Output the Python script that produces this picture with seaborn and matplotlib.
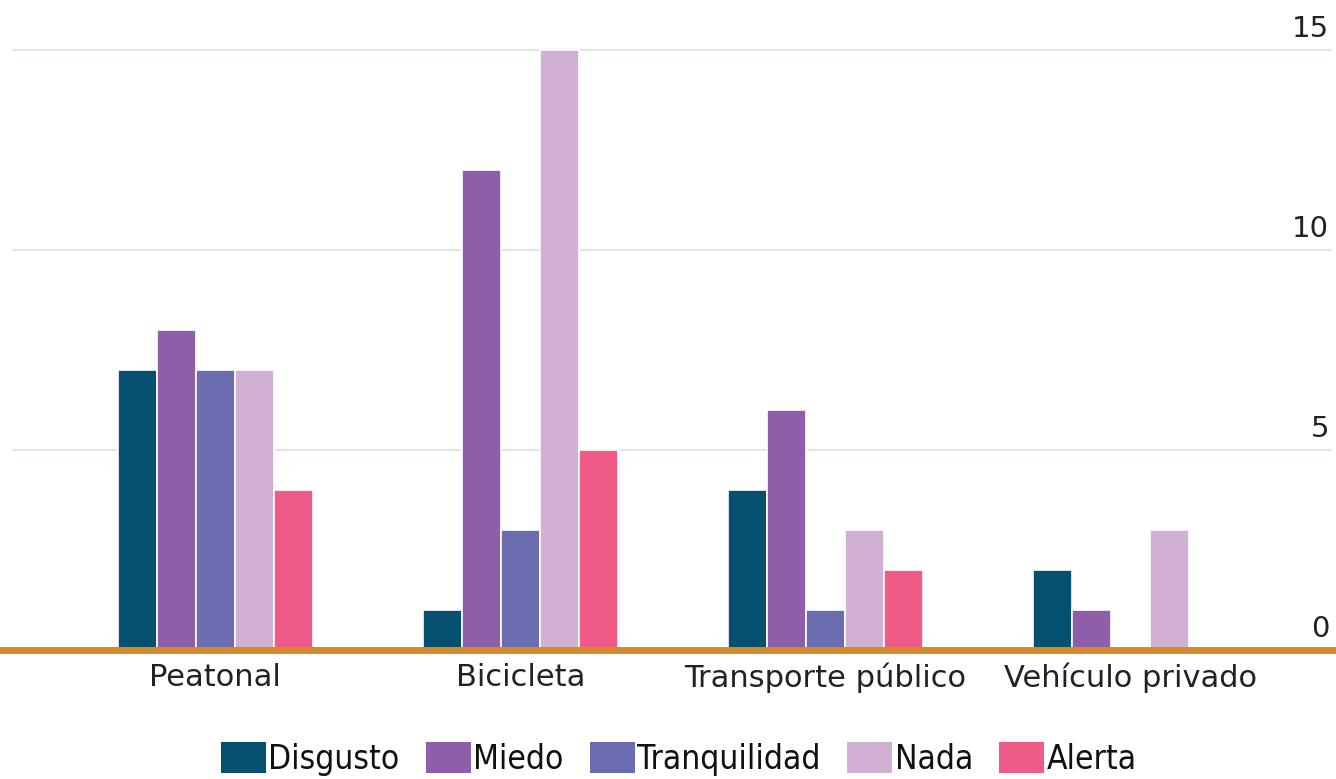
import matplotlib
matplotlib.use("Agg")
import matplotlib.pyplot as plt
import matplotlib.transforms as mtrans
import seaborn as sns
import pandas as pd
from matplotlib.font_manager import FontProperties
from matplotlib.patches import Patch

categories = ["Peatonal", "Bicicleta", "Transporte público", "Vehículo privado"]
series = ["Disgusto", "Miedo", "Tranquilidad", "Nada", "Alerta"]
disgusto = [7, 1, 4, 2]
miedo = [8, 12, 6, 1]
tranquilidad = [7, 3, 1, 0]
nada = [7, 15, 3, 3]
alerta = [4, 5, 2, 0]
y_ticks = [0, 5, 10, 15]

colors = ["#05506e", "#8e5ea8", "#6c6db0", "#d0b0d3", "#ef5a86"]

values = [disgusto, miedo, tranquilidad, nada, alerta]
rows = []
for s, vals in zip(series, values):
    for c, v in zip(categories, vals):
        rows.append({"cat": c, "serie": s, "val": v})
df = pd.DataFrame(rows)

sns.set_theme(style="white")
plt.rcParams["font.family"] = ["DejaVu Sans"]

fig = plt.figure(figsize=(13.36, 7.79), dpi=100)
ax = fig.add_axes([12 / 1336, 129 / 779, 1320 / 1336, (650 - 42) / 779])

sns.barplot(data=df, x="cat", y="val", hue="serie", order=categories,
            hue_order=series, palette=colors, width=0.64, ax=ax,
            edgecolor="white", linewidth=1.2, legend=False, saturation=1)

ax.set_xlim(-0.666, 3.66)
ax.set_ylim(0, 15.2)
ax.set_xlabel("")
ax.set_ylabel("")

ax.yaxis.tick_right()
ax.set_yticks(y_ticks)
ax.set_yticklabels([str(t) for t in y_ticks])
ax.tick_params(axis="y", length=0, pad=-2, labelsize=21, colors="#222222")
for lab in ax.get_yticklabels():
    lab.set_horizontalalignment("right")
    lab.set_verticalalignment("bottom")
    lab.set_transform(lab.get_transform() + mtrans.ScaledTranslation(0, 7 / 100, fig.dpi_scale_trans))

ax.tick_params(axis="x", length=0, pad=9, labelsize=22, colors="#222222")

ax.grid(axis="y", color="#dfe6e8", linewidth=1.5)
ax.grid(axis="x", visible=False)
ax.set_axisbelow(True)
for sp in ["top", "left", "right"]:
    ax.spines[sp].set_visible(False)
ax.spines["bottom"].set_visible(False)
ax.axhline(0, color="#d4892a", linewidth=5, zorder=5, xmin=-0.01, xmax=1.01, clip_on=False)

handles = [Patch(facecolor=c, edgecolor="none") for c in colors]
fp = FontProperties(family="DejaVu Sans", stretch="condensed", size=24)
fig.legend(handles, series, loc="lower center", bbox_to_anchor=(0.508, -0.035),
           ncol=5, frameon=False, prop=fp, handlelength=1.35, handleheight=1.05,
           handletextpad=0.08, columnspacing=0.78, labelcolor="#111111")

fig.savefig("out.png", dpi=100)
